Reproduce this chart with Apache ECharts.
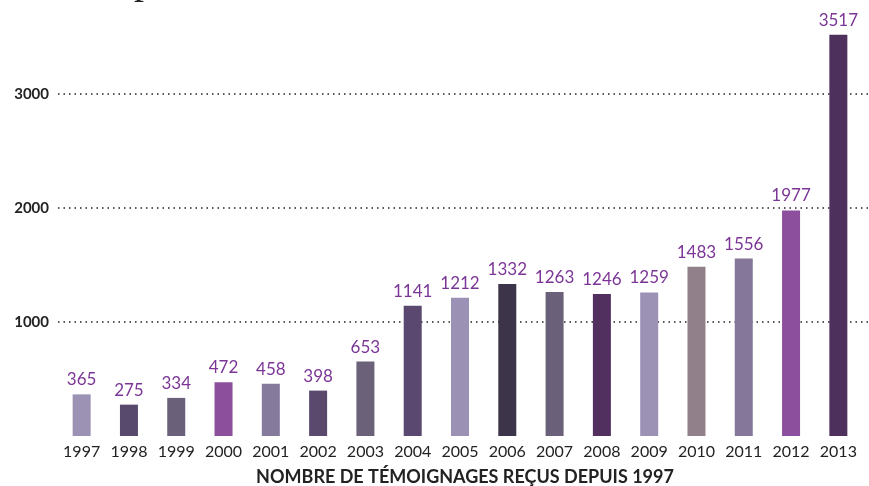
<!doctype html>
<html>
<head>
<meta charset="utf-8">
<title>Témoignages reçus</title>
<style>
  html, body { margin: 0; padding: 0; background: #fff; }
  #main { width: 869px; height: 486px; }
</style>
</head>
<body>
<div id="main"></div>
<script src="https://cdn.jsdelivr.net/npm/echarts@6/dist/echarts.min.js"></script>
<script>
var years = ['1997', '1998', '1999', '2000', '2001', '2002', '2003', '2004', '2005',
             '2006', '2007', '2008', '2009', '2010', '2011', '2012', '2013'];
var temoignages = [365, 275, 334, 472, 458, 398, 653, 1141, 1212,
                   1332, 1263, 1246, 1259, 1483, 1556, 1977, 3517];
var barColors = ['#9b92b4', '#574a6d', '#6a6079', '#8b4f9b', '#857a9b', '#5a486d', '#6b6279', '#5a4870', '#9b91b4',
                 '#3c3449', '#6a6079', '#51305f', '#9b92b6', '#918089', '#857799', '#8c4f9e', '#4e305c'];

var chart = echarts.init(document.getElementById('main'));

var yMax = 3700;
var gridTop = 14, gridBottom = 50;

chart.setOption({
    backgroundColor: '#fff',
    animation: false,
    graphic: [{
        // bas du titre, coupé par le cadre
        type: 'text',
        left: 134,
        top: -38,
        style: {
            text: 'p',
            font: '40px "Liberation Serif", "DejaVu Serif", serif',
            fill: '#222'
        }
    }],
    grid: [
        { left: 58, right: 7, top: gridTop, bottom: gridBottom, outerBoundsMode: 'none', containLabel: false },
        { left: 58, right: 0, top: gridTop, bottom: gridBottom, outerBoundsMode: 'none', containLabel: false }
    ],
    xAxis: [{
        type: 'category',
        gridIndex: 0,
        data: years,
        axisLine: { show: false },
        axisTick: { show: false },
        axisLabel: {
            interval: 0,
            hideOverlap: false,
            margin: 8,
            color: '#222',
            fontSize: 16,
            fontFamily: 'Lato'
        },
        name: 'NOMBRE DE TÉMOIGNAGES REÇUS DEPUIS 1997',
        nameLocation: 'middle',
        nameGap: 32,
        nameTextStyle: {
            color: '#222',
            fontSize: 18,
            fontWeight: 'bold',
            fontFamily: 'Lato',
            padding: [0, 0, 0, 10]
        }
    }, {
        type: 'category',
        gridIndex: 1,
        data: years,
        show: false
    }],
    yAxis: [{
        type: 'value',
        gridIndex: 0,
        min: 0,
        max: yMax,
        interval: 1000,
        show: false
    }, {
        type: 'value',
        gridIndex: 1,
        min: 0,
        max: yMax,
        interval: 1000,
        axisLine: { show: false },
        axisTick: { show: false },
        axisLabel: {
            showMinLabel: false,
            showMaxLabel: false,
            margin: 9,
            color: '#222',
            fontSize: 15,
            fontWeight: 'bold',
            fontFamily: 'Lato',
            formatter: function (v) { return String(v); }
        },
        splitLine: {
            show: true,
            showMinLine: false,
            showMaxLine: false,
            lineStyle: {
                color: '#222',
                width: 1.5,
                type: [1.5, 4]
            }
        }
    }],
    series: [{
        type: 'bar',
        xAxisIndex: 0,
        yAxisIndex: 0,
        barWidth: 18,
        z: 3,
        data: temoignages.map(function (v, i) {
            return { value: v, itemStyle: { color: barColors[i] } };
        }),
        label: {
            show: true,
            position: 'top',
            distance: 6,
            color: '#7b3596',
            fontSize: 17,
            fontFamily: 'Lato'
        }
    }]
});

window.onresize = chart.resize;
</script>
</body>
</html>
